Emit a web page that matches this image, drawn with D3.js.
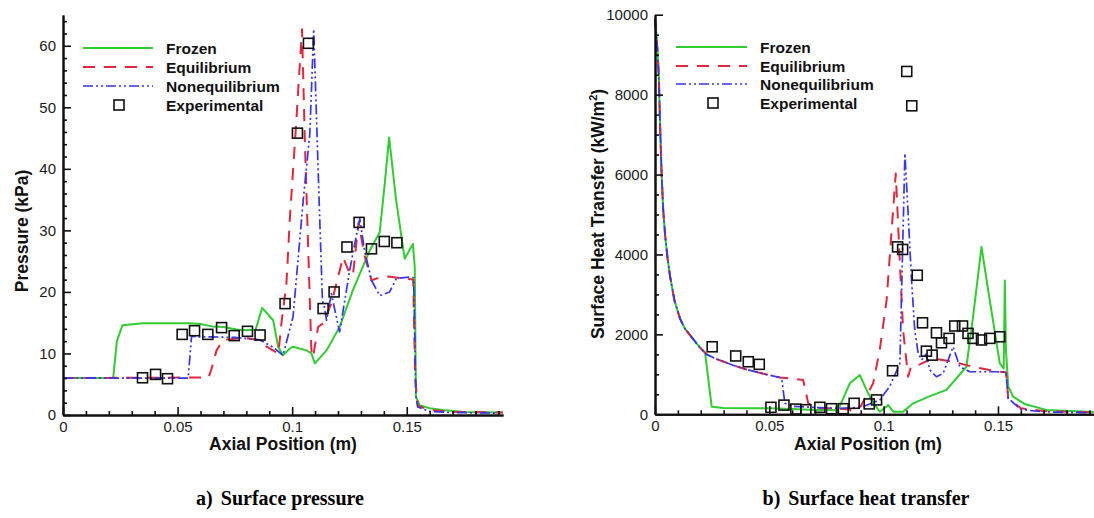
<!DOCTYPE html>
<html>
<head>
<meta charset="utf-8">
<script src="https://cdn.jsdelivr.net/npm/d3@7"></script>
<style>
body { margin: 0; background: #fff; }
text { font-family: "Liberation Sans", Arial, sans-serif; }
.caption { font-family: "Liberation Serif", "Times New Roman", serif; font-weight: bold; font-size: 20px; }
</style>
</head>
<body>
<svg id="thesvg" width="1094" height="518"></svg>
<script>
'use strict';

// ---- data: (a) surface pressure, kPa ----
let presFrozenX = [0, 0.0219, 0.0235, 0.026, 0.035, 0.045, 0.055, 0.060, 0.065, 0.070, 0.077, 0.084, 0.0869, 0.0917, 0.0939, 0.096, 0.099, 0.1004, 0.1062, 0.1084, 0.1099, 0.115, 0.1207, 0.1265, 0.1338, 0.1382, 0.1404, 0.1423, 0.1454, 0.1491, 0.1527, 0.1535, 0.1540, 0.1556, 0.160, 0.1657, 0.175, 0.192];
let presFrozenY = [6, 6, 12, 14.6, 14.9, 14.9, 14.9, 14.8, 14.4, 14.3, 13.8, 13.8, 17.4, 15.4, 11.1, 9.7, 10.8, 11.1, 10.5, 10, 8.4, 10.5, 14.3, 20.3, 26.7, 29.7, 37.6, 45.1, 34.8, 25.4, 27.8, 24, 3, 1.6, 1.1, 0.8, 0.5, 0.4];

let presEquilX = [0, 0.0635, 0.0648, 0.0670, 0.0699, 0.075, 0.080, 0.085, 0.0888, 0.0916, 0.094, 0.0953, 0.0975, 0.099, 0.1015, 0.1043, 0.1055, 0.1077, 0.1084, 0.1091, 0.1113, 0.1135, 0.117, 0.1222, 0.1251, 0.1265, 0.129, 0.1315, 0.1346, 0.137, 0.142, 0.148, 0.1528, 0.1537, 0.1548, 0.160, 0.170, 0.192];
let presEquilY = [6, 6.1, 7.5, 10.5, 12.2, 12.4, 12.5, 12.2, 11.1, 10.5, 10, 14.9, 21.4, 32, 46, 62.7, 45, 18.6, 10.5, 9.4, 14.3, 14.9, 18, 25.6, 23, 22.7, 31.3, 26, 21.9, 22.2, 22.5, 22.2, 22, 6, 1.5, 0.8, 0.5, 0.4];

let presNoneqX = [0, 0.0546, 0.0561, 0.058, 0.065, 0.075, 0.0859, 0.0917, 0.096, 0.1004, 0.1025, 0.1048, 0.1077, 0.1094, 0.1113, 0.1132, 0.1140, 0.115, 0.1171, 0.1207, 0.1251, 0.1273, 0.1295, 0.1316, 0.1346, 0.1382, 0.1425, 0.1455, 0.1513, 0.1530, 0.1540, 0.1548, 0.160, 0.170, 0.192];
let presNoneqY = [6, 6, 12.8, 12.7, 12.7, 12.6, 12.2, 11, 9.7, 16, 25, 34.8, 45.7, 62.7, 40.2, 18.6, 17.6, 15.4, 19.7, 13.5, 23.5, 27.8, 31.9, 26.7, 21.9, 19.4, 20, 22.2, 22.4, 22.3, 3, 1.3, 0.6, 0.4, 0.3];

let presExpX = [0.0347, 0.0404, 0.0456, 0.052, 0.0574, 0.0632, 0.0692, 0.0747, 0.0805, 0.086, 0.0969, 0.1023, 0.1071, 0.1135, 0.1183, 0.1239, 0.1292, 0.1346, 0.1402, 0.1457];
let presExpY = [6.05, 6.6, 5.9, 13.1, 13.7, 13.1, 14.2, 12.9, 13.6, 13, 18.1, 45.8, 60.4, 17.3, 20, 27.3, 31.3, 27, 28.2, 28];

// ---- data: (b) surface heat transfer, kW/m^2 ----
let heatFrozenX = [0, 0.0006, 0.0012, 0.0017, 0.0022, 0.0029, 0.0036, 0.0044, 0.0055, 0.0066, 0.0085, 0.0109, 0.013, 0.0167, 0.0195, 0.0219, 0.0248, 0.030, 0.040, 0.050, 0.060, 0.070, 0.080, 0.0852, 0.0896, 0.0925, 0.0947, 0.0983, 0.102, 0.1042, 0.1085, 0.1129, 0.120, 0.1275, 0.1362, 0.1391, 0.1428, 0.1457, 0.1508, 0.1525, 0.1530, 0.1535, 0.1545, 0.1566, 0.162, 0.1712, 0.192];
let heatFrozenY = [9900, 9500, 9000, 8400, 7300, 6000, 5100, 4500, 3900, 3450, 2850, 2400, 2150, 1880, 1680, 1540, 190, 160, 150, 150, 130, 110, 100, 775, 980, 610, 360, 65, 230, 65, 65, 275, 450, 610, 1190, 2440, 4190, 3110, 1275, 1150, 3350, 1600, 700, 440, 250, 110, 60];

let heatEquilX = [0, 0.0006, 0.0012, 0.0017, 0.0022, 0.0029, 0.0036, 0.0044, 0.0055, 0.0066, 0.0085, 0.0109, 0.013, 0.0167, 0.0195, 0.0226, 0.027, 0.0313, 0.035, 0.0401, 0.047, 0.0546, 0.059, 0.0648, 0.067, 0.070, 0.078, 0.085, 0.0867, 0.090, 0.0954, 0.0983, 0.1013, 0.1034, 0.1053, 0.1071, 0.1085, 0.1107, 0.1120, 0.1158, 0.1216, 0.1304, 0.139, 0.150, 0.1535, 0.1545, 0.160, 0.170, 0.192];
let heatEquilY = [9900, 9500, 9000, 8400, 7300, 6000, 5100, 4500, 3900, 3450, 2850, 2400, 2150, 1880, 1680, 1500, 1380, 1290, 1210, 1120, 1020, 920, 900, 860, 280, 150, 150, 120, 60, 200, 775, 1610, 2860, 4530, 6025, 3775, 2110, 940, 1200, 1250, 1400, 1315, 1190, 1065, 1050, 400, 150, 80, 50];

let heatNoneqX = [0, 0.0006, 0.0012, 0.0017, 0.0022, 0.0029, 0.0036, 0.0044, 0.0055, 0.0066, 0.0085, 0.0109, 0.013, 0.0167, 0.0195, 0.0226, 0.027, 0.0313, 0.035, 0.0401, 0.047, 0.0546, 0.0555, 0.0568, 0.060, 0.070, 0.080, 0.090, 0.0983, 0.1027, 0.1071, 0.1078, 0.1085, 0.1093, 0.1107, 0.1122, 0.1136, 0.1151, 0.1166, 0.1185, 0.1202, 0.1231, 0.126, 0.1304, 0.1333, 0.1377, 0.150, 0.1535, 0.1545, 0.160, 0.170, 0.192];
let heatNoneqY = [9900, 9500, 9000, 8400, 7300, 6000, 5100, 4500, 3900, 3450, 2850, 2400, 2150, 1880, 1680, 1500, 1380, 1290, 1210, 1120, 1020, 920, 850, 275, 200, 170, 150, 170, 360, 700, 1275, 2940, 4610, 6525, 5025, 3360, 2110, 1525, 1360, 1500, 1110, 940, 1025, 1690, 1190, 1065, 1065, 1050, 400, 120, 60, 40];

let heatExpX = [0.025, 0.0353, 0.0408, 0.0456, 0.0507, 0.0564, 0.0616, 0.066, 0.0721, 0.0772, 0.0823, 0.0871, 0.0937, 0.0969, 0.1039, 0.1061, 0.1083, 0.1101, 0.1123, 0.1147, 0.117, 0.1187, 0.1212, 0.1231, 0.1253, 0.1286, 0.1311, 0.1345, 0.1369, 0.1391, 0.1428, 0.1464, 0.1508];
let heatExpY = [1690, 1460, 1315, 1250, 175, 230, 130, 115, 175, 140, 140, 275, 260, 360, 1090, 4190, 4125, 8580, 7720, 3480, 2290, 1580, 1480, 2040, 1790, 1900, 2210, 2210, 2025, 1900, 1860, 1900, 1940];

let legendNames = ["Frozen", "Equilibrium", "Nonequilibrium", "Experimental"];
let xTicks = [0, 0.05, 0.1, 0.15];
let presTicks = [0, 10, 20, 30, 40, 50, 60];
let heatTicks = [0, 2000, 4000, 6000, 8000, 10000];

var svg = d3.select("#thesvg"),
    xMax = 0.192,
    lineColor = ["#2fcd2f", "#e2263c", "#3535f2"],
    lineDash = [null, "12,9", "10,3,2,3,2,3"],
    lineWidth = [2, 2, 1.7],
    sq = 10; // experimental marker size

function pairs(xs, ys) {
  return xs.map(function(v, i) { return [v, ys[i]]; });
}

function drawPanel(p) {
  var x = d3.scaleLinear().domain([0, xMax]).range([p.left, p.right]),
      y = d3.scaleLinear().domain([0, p.yMax]).range([p.bottom, p.top]);

  var g = svg.append("g");

  // curves
  p.series.forEach(function(s, i) {
    g.append("path")
      .datum(pairs(s[0], s[1]))
      .attr("fill", "none")
      .attr("stroke", lineColor[i])
      .attr("stroke-width", lineWidth[i])
      .attr("stroke-dasharray", lineDash[i])
      .attr("stroke-linejoin", "round")
      .attr("d", d3.line().x(function(d) { return x(d[0]); }).y(function(d) { return y(d[1]); }));
  });

  // experimental squares
  g.selectAll(".exp")
      .data(pairs(p.exp[0], p.exp[1]))
    .enter().append("rect")
      .attr("class", "exp")
      .attr("x", function(d) { return x(d[0]) - sq / 2; })
      .attr("y", function(d) { return y(d[1]) - sq / 2; })
      .attr("width", sq)
      .attr("height", sq)
      .attr("fill", "none")
      .attr("stroke", "#111")
      .attr("stroke-width", 1.6);

  // minor ticks
  var xMinor = d3.range(0, xMax, 0.01).filter(function(v) { return Math.round(v * 100) % 5 !== 0; });
  var yMinor = d3.range(0, p.yMax + 1e-9, p.yMinorStep).filter(function(v) { return p.yTicks.indexOf(v) < 0; });

  g.append("g")
      .attr("class", "axis")
      .attr("transform", "translate(0," + p.bottom + ")")
      .call(d3.axisBottom(x).tickValues(xMinor).tickSize(-4).tickSizeOuter(0).tickFormat(""));
  g.append("g")
      .attr("class", "axis")
      .attr("transform", "translate(" + p.left + ",0)")
      .call(d3.axisLeft(y).tickValues(yMinor).tickSize(-4).tickSizeOuter(0).tickFormat(""));

  // major axes
  g.append("g")
      .attr("class", "axis")
      .attr("transform", "translate(0," + p.bottom + ")")
      .call(d3.axisBottom(x).tickValues(xTicks).tickSize(-8).tickSizeOuter(0).tickPadding(6)
            .tickFormat(function(d) { return d === 0 ? "0" : String(d); }));
  g.append("g")
      .attr("class", "axis")
      .attr("transform", "translate(" + p.left + ",0)")
      .call(d3.axisLeft(y).tickValues(p.yTicks).tickSize(-8).tickSizeOuter(0).tickPadding(7)
            .tickFormat(d3.format("d")));

  g.selectAll(".axis path").attr("stroke", "#111").attr("stroke-width", 2);
  g.selectAll(".axis line").attr("stroke", "#111").attr("stroke-width", 1.6);
  g.selectAll(".axis text")
      .attr("fill", "#1a1a1a")
      .style("font-size", "15px")
      .style("font-family", "'Liberation Sans', Arial, sans-serif");

  // axis titles
  g.append("text")
      .attr("x", p.xTitleX)
      .attr("y", 450)
      .attr("text-anchor", "middle")
      .style("font-size", "17.5px")
      .style("font-weight", "bold")
      .attr("fill", "#111")
      .text("Axial Position (m)");

  var yt = g.append("text")
      .attr("transform", "translate(" + p.yTitleX + "," + p.yTitleY + ") rotate(-90)")
      .attr("text-anchor", "middle")
      .style("font-size", "17.5px")
      .style("font-weight", "bold")
      .attr("fill", "#111");
  yt.append("tspan").text(p.yTitle);
  if (p.sup) {
    yt.append("tspan").attr("dy", "-7").style("font-size", "11px").text(p.sup);
    yt.append("tspan").attr("dy", "7").text(")");
  }

  // legend
  var leg = g.append("g").attr("class", "legend");
  legendNames.forEach(function(name, i) {
    var ly = p.legY[i];
    if (i < 3) {
      leg.append("line")
        .attr("x1", p.legX1).attr("x2", p.legX2)
        .attr("y1", ly).attr("y2", ly)
        .attr("stroke", lineColor[i])
        .attr("stroke-width", lineWidth[i])
        .attr("stroke-dasharray", lineDash[i]);
    } else {
      leg.append("rect")
        .attr("x", p.legSq - sq / 2).attr("y", ly - sq / 2)
        .attr("width", sq).attr("height", sq)
        .attr("fill", "none").attr("stroke", "#111").attr("stroke-width", 1.6);
    }
    leg.append("text")
      .attr("x", p.legText)
      .attr("y", ly)
      .attr("dy", "0.36em")
      .style("font-size", "15.5px")
      .style("font-weight", "bold")
      .attr("fill", "#111")
      .text(name);
  });

  // caption
  var cap = svg.append("text")
      .attr("class", "caption")
      .attr("x", p.capX)
      .attr("y", 505)
      .attr("text-anchor", "middle")
      .attr("fill", "#000");
  cap.append("tspan").text(p.capTag);
  cap.append("tspan").attr("dx", 8).text(p.capText);
}

drawPanel({
  left: 63, right: 503, top: 15, bottom: 415, yMax: 65,
  yTicks: presTicks, yMinorStep: 2,
  series: [[presFrozenX, presFrozenY], [presEquilX, presEquilY], [presNoneqX, presNoneqY]],
  exp: [presExpX, presExpY],
  xTitleX: 283, yTitleX: 28, yTitleY: 231, yTitle: "Pressure (kPa)",
  legX1: 83, legX2: 153, legSq: 119, legText: 166, legY: [48, 67, 86, 105],
  capX: 280, capTag: "a)", capText: "Surface pressure"
});

drawPanel({
  left: 655, right: 1094, top: 14.7, bottom: 414.3, yMax: 10000,
  yTicks: heatTicks, yMinorStep: 500,
  series: [[heatFrozenX, heatFrozenY], [heatEquilX, heatEquilY], [heatNoneqX, heatNoneqY]],
  exp: [heatExpX, heatExpY],
  xTitleX: 868, yTitleX: 604, yTitleY: 214, yTitle: "Surface Heat Transfer (kW/m", sup: "2",
  legX1: 676, legX2: 747, legSq: 713, legText: 760, legY: [47, 66, 84, 103],
  capX: 866, capTag: "b)", capText: "Surface heat transfer"
});
</script>
</body>
</html>
